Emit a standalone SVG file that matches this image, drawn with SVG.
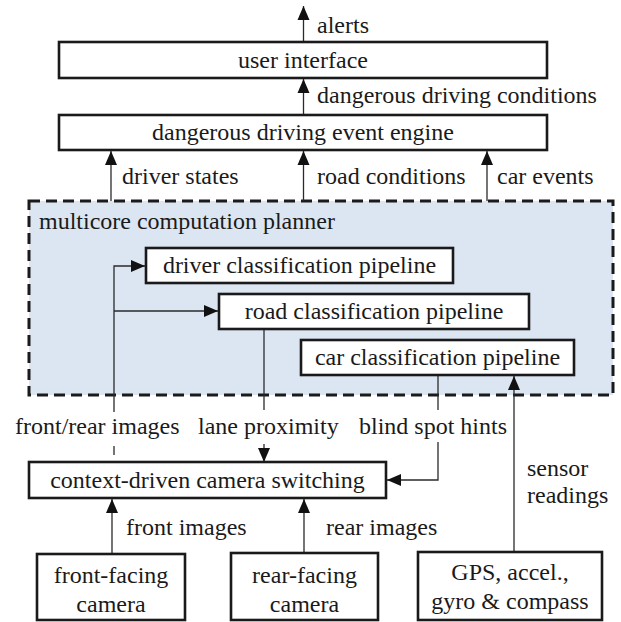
<svg xmlns="http://www.w3.org/2000/svg" width="621" height="622" viewBox="0 0 621 622">
<defs>
<marker id="ah" markerUnits="userSpaceOnUse" markerWidth="15" markerHeight="13" refX="14" refY="6" orient="auto" overflow="visible">
<path d="M0,0 L14,6 L0,12 z" fill="#111"/>
</marker>
<style>
.box{fill:#fff;stroke:#1a1a1a;stroke-width:2.6}
.t{font-family:"Liberation Serif","Times New Roman",serif;font-size:24px;fill:#1a1a1a}
.c{text-anchor:middle}
.ln{stroke:#2a2a2a;stroke-width:1.3;fill:none}
</style>
</defs>
<rect id="planner-bg" x="29" y="201" width="584" height="194" fill="#dce6f2" stroke="#1a1a1a" stroke-width="3" stroke-dasharray="11 6"/>
<text class="t" x="39" y="229">multicore computation planner</text>
<g id="connectors">
<line class="ln" x1="303.5" y1="42" x2="303.5" y2="6" marker-end="url(#ah)"/>
<line class="ln" x1="303.5" y1="115" x2="303.5" y2="79" marker-end="url(#ah)"/>
<line class="ln" x1="111" y1="201" x2="111" y2="151" marker-end="url(#ah)"/>
<line class="ln" x1="303.5" y1="201" x2="303.5" y2="151" marker-end="url(#ah)"/>
<line class="ln" x1="487" y1="201" x2="487" y2="151" marker-end="url(#ah)"/>
<polyline class="ln" points="114,412 114,266 145,266" marker-end="url(#ah)"/>
<line class="ln" x1="114" y1="311" x2="218" y2="311" marker-end="url(#ah)"/>
<line class="ln" x1="114" y1="446" x2="114" y2="455"/>
<line class="ln" x1="264" y1="329" x2="264" y2="410"/>
<line class="ln" x1="264" y1="444" x2="264" y2="462" marker-end="url(#ah)"/>
<line class="ln" x1="438" y1="375" x2="438" y2="410"/>
<polyline class="ln" points="438,442 438,480 387,480" marker-end="url(#ah)"/>
<line class="ln" x1="514" y1="552" x2="514" y2="376" marker-end="url(#ah)"/>
<line class="ln" x1="112" y1="554" x2="112" y2="499" marker-end="url(#ah)"/>
<line class="ln" x1="304" y1="553" x2="304" y2="499" marker-end="url(#ah)"/>
</g>
<g id="labels">
<text class="t" x="317" y="33">alerts</text>
<text class="t" x="317" y="103">dangerous driving conditions</text>
<text class="t" x="122" y="184">driver states</text>
<text class="t" x="317" y="184">road conditions</text>
<text class="t" x="497" y="184">car events</text>
<text class="t" x="15" y="434">front/rear images</text>
<text class="t" x="198" y="434">lane proximity</text>
<text class="t" x="359" y="434">blind spot hints</text>
<text class="t" x="527" y="476">sensor</text>
<text class="t" x="527" y="503">readings</text>
<text class="t" x="126" y="535">front images</text>
<text class="t" x="326" y="535">rear images</text>
</g>
<g id="user-interface">
<rect class="box" x="59" y="42" width="488" height="36"/>
<text class="t c" x="303" y="68">user interface</text>
</g>
<g id="event-engine">
<rect class="box" x="59" y="115" width="488" height="35"/>
<text class="t c" x="303" y="140">dangerous driving event engine</text>
</g>
<g id="driver-pipeline">
<rect class="box" x="146" y="248" width="307" height="35"/>
<text class="t c" x="299.5" y="273">driver classification pipeline</text>
</g>
<g id="road-pipeline">
<rect class="box" x="219" y="294" width="310" height="35"/>
<text class="t c" x="374" y="319">road classification pipeline</text>
</g>
<g id="car-pipeline">
<rect class="box" x="301" y="340" width="273" height="35"/>
<text class="t c" x="437.5" y="365">car classification pipeline</text>
</g>
<g id="camera-switching">
<rect class="box" x="29" y="462" width="357" height="36"/>
<text class="t c" x="207.5" y="488">context-driven camera switching</text>
</g>
<g id="front-camera">
<rect class="box" x="37" y="554" width="148" height="66"/>
<text class="t c" x="111" y="583">front-facing</text>
<text class="t c" x="111" y="612">camera</text>
</g>
<g id="rear-camera">
<rect class="box" x="231" y="553" width="147" height="67"/>
<text class="t c" x="304.5" y="583">rear-facing</text>
<text class="t c" x="304.5" y="612">camera</text>
</g>
<g id="sensors">
<rect class="box" x="418" y="552" width="184" height="68"/>
<text class="t c" x="510" y="580">GPS, accel.,</text>
<text class="t c" x="510" y="609">gyro &amp; compass</text>
</g>
</svg>
